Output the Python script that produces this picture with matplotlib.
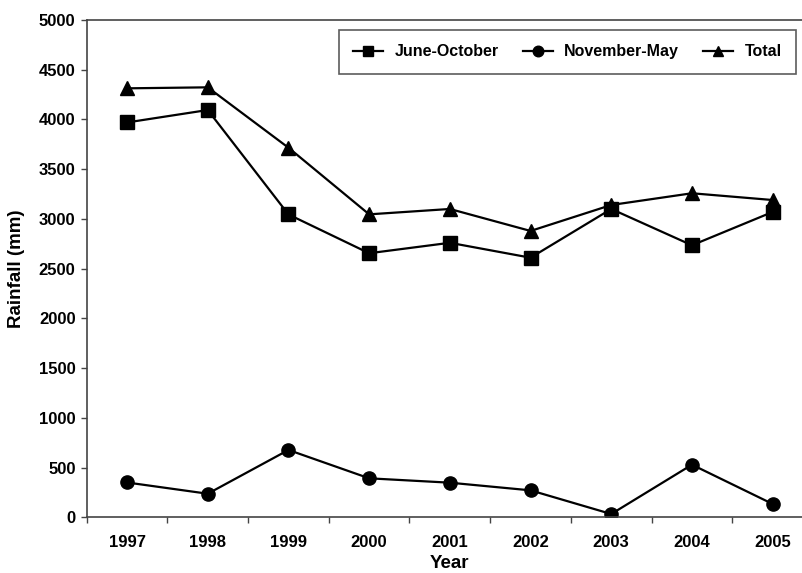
import numpy as np
import matplotlib
matplotlib.use("Agg")
import matplotlib.pyplot as plt

# rainfall per year (mm)
years = ["1997", "1998", "1999", "2000", "2001", "2002", "2003", "2004", "2005"]
june_oct = [3970, 4095, 3045, 2655, 2760, 2610, 3100, 2735, 3070]
nov_may = [350, 237, 677, 392, 348, 271, 33, 529, 134]
total = [4313, 4323, 3716, 3046, 3100, 2879, 3140, 3258, 3190]

plt.rcParams["font.family"] = ["Liberation Sans", "DejaVu Sans"]
plt.rcParams["font.weight"] = "bold"

W, H = 802, 573
fig = plt.figure(figsize=(W / 100, H / 100), dpi=100)
# axes runs a bit past the right edge of the picture, like the original crop
left, right, top, bottom = 86.7, 813.0, 20.0, 517.3
ax = fig.add_axes([left / W, 1 - bottom / H, (right - left) / W, (bottom - top) / H])

x = np.arange(len(years))
ax.plot(x, june_oct, color="k", lw=1.6, marker="s", ms=9.5, label="June-October")
ax.plot(x, nov_may, color="k", lw=1.6, marker="o", ms=9.5, label="November-May")
ax.plot(x, total, color="k", lw=1.6, marker="^", ms=9.5, label="Total")

ax.set_xlim(-0.5, len(years) - 0.5)
ax.set_ylim(0, 5000)
ax.set_yticks(np.arange(0, 5001, 500))
ax.tick_params(axis="y", direction="out", length=4, width=1, color="#444", labelsize=12, pad=4)

# labels at category centres, tick marks at the category edges
ax.set_xticks(x)
ax.set_xticklabels(years)
ax.set_xticks(np.arange(-0.5, len(years), 1), minor=True)
ax.tick_params(axis="x", which="major", length=0, labelsize=12, pad=13)
ax.tick_params(axis="x", which="minor", direction="out", length=4, width=1, color="#444")

for s in ["left", "bottom", "top", "right"]:
    ax.spines[s].set_color("#444")
    ax.spines[s].set_linewidth(1.2)

ax.set_xlabel("Year", fontsize=13.5, fontweight="bold", labelpad=3)
ax.set_ylabel("Rainfall (mm)", fontsize=13.5, fontweight="bold", labelpad=10)

leg = ax.legend(loc="upper right", ncol=3, bbox_to_anchor=(796 / W, 1 - 30 / H),
                bbox_transform=fig.transFigure, borderaxespad=0, fontsize=11.5,
                fancybox=False, frameon=True, edgecolor="#333", handlelength=1.9,
                columnspacing=1.5, handletextpad=0.7, markerscale=0.8,
                borderpad=0.9)
leg.get_frame().set_linewidth(1.2)

fig.savefig("out.png", dpi=100)
